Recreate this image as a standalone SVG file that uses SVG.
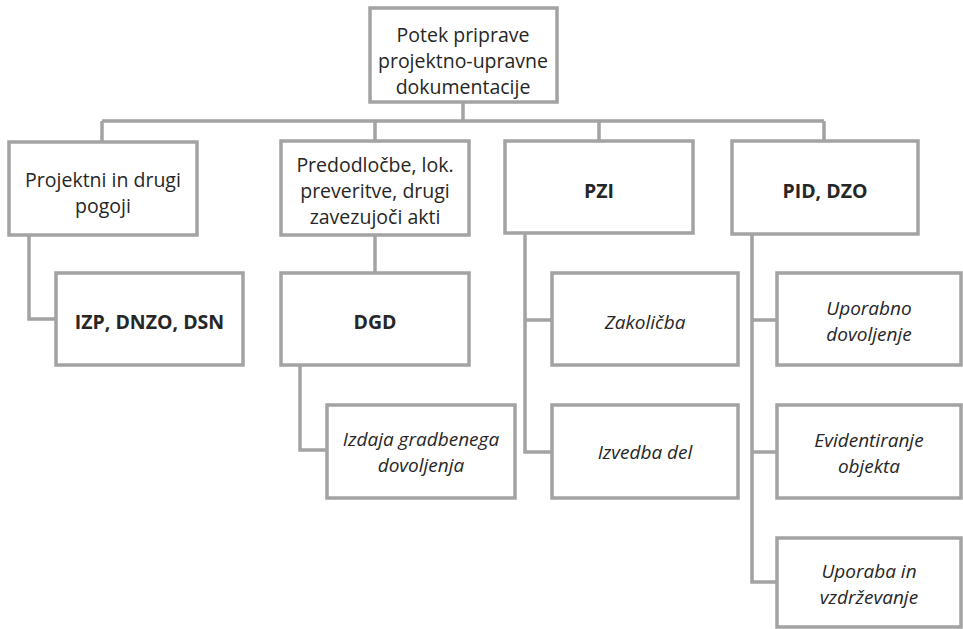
<svg xmlns="http://www.w3.org/2000/svg" width="963" height="629" viewBox="0 0 963 629">
  <style>
    .box { fill: #ffffff; stroke: #a3a3a3; stroke-width: 3.5; }
    .wire { fill: none; stroke: #a3a3a3; stroke-width: 3.5; stroke-linejoin: miter; }
    text { font-family: "Open Sans", "Noto Sans", "Liberation Sans", sans-serif; font-size: 19.5px; fill: #262626; text-anchor: middle; dominant-baseline: central; }
    .b { font-weight: bold; }
    .i { font-style: italic; font-size: 19px; }
  </style>
  <rect width="963" height="629" fill="#ffffff"/>

  <g id="connectors">
    <path class="wire" d="M463 102 V121 M102 121 H824 M102 121 V142 M375 121 V141 M599 121 V141 M824 121 V141"/>
    <path class="wire" d="M29 235 V319 H56"/>
    <path class="wire" d="M375 235 V273"/>
    <path class="wire" d="M300 365 V450 H327"/>
    <path class="wire" d="M525 233 V452 H552 M525 320 H552"/>
    <path class="wire" d="M752 234 V582 H777 M752 320 H777 M752 452 H777"/>
  </g>

  <g id="root">
    <rect class="box" x="370" y="8" width="187" height="94"/>
    <text x="463" y="34">Potek priprave</text>
    <text x="463" y="60">projektno-upravne</text>
    <text x="463" y="86">dokumentacije</text>
  </g>

  <g id="pogoji">
    <rect class="box" x="9" y="142" width="188" height="93"/>
    <text x="103" y="179">Projektni in drugi</text>
    <text x="103" y="205">pogoji</text>
  </g>
  <g id="izp">
    <rect class="box" x="56" y="273" width="187" height="92"/>
    <text class="b" x="149.5" y="321">IZP, DNZO, DSN</text>
  </g>

  <g id="predodlocbe">
    <rect class="box" x="281" y="141" width="188" height="94"/>
    <text x="375" y="164">Predodločbe, lok.</text>
    <text x="375" y="190">preveritve, drugi</text>
    <text x="375" y="216">zavezujoči akti</text>
  </g>
  <g id="dgd">
    <rect class="box" x="281" y="273" width="188" height="92"/>
    <text class="b" x="375" y="321">DGD</text>
  </g>
  <g id="izdaja">
    <rect class="box" x="327" y="405" width="188" height="93"/>
    <text class="i" x="421" y="439">Izdaja gradbenega</text>
    <text class="i" x="421" y="465">dovoljenja</text>
  </g>

  <g id="pzi">
    <rect class="box" x="505" y="141" width="188" height="92"/>
    <text class="b" x="599" y="190">PZI</text>
  </g>
  <g id="zakolicba">
    <rect class="box" x="552" y="273" width="186" height="92"/>
    <text class="i" x="645" y="322">Zakoličba</text>
  </g>
  <g id="izvedba">
    <rect class="box" x="552" y="405" width="186" height="93"/>
    <text class="i" x="645" y="452">Izvedba del</text>
  </g>

  <g id="pid">
    <rect class="box" x="732" y="141" width="186" height="93"/>
    <text class="b" x="825" y="190">PID, DZO</text>
  </g>
  <g id="uporabno">
    <rect class="box" x="777" y="273" width="184" height="92"/>
    <text class="i" x="869" y="308">Uporabno</text>
    <text class="i" x="869" y="334">dovoljenje</text>
  </g>
  <g id="evidentiranje">
    <rect class="box" x="777" y="405" width="184" height="93"/>
    <text class="i" x="869" y="440">Evidentiranje</text>
    <text class="i" x="869" y="466">objekta</text>
  </g>
  <g id="uporaba">
    <rect class="box" x="777" y="538" width="184" height="89"/>
    <text class="i" x="869" y="571">Uporaba in</text>
    <text class="i" x="869" y="597">vzdrževanje</text>
  </g>
</svg>
